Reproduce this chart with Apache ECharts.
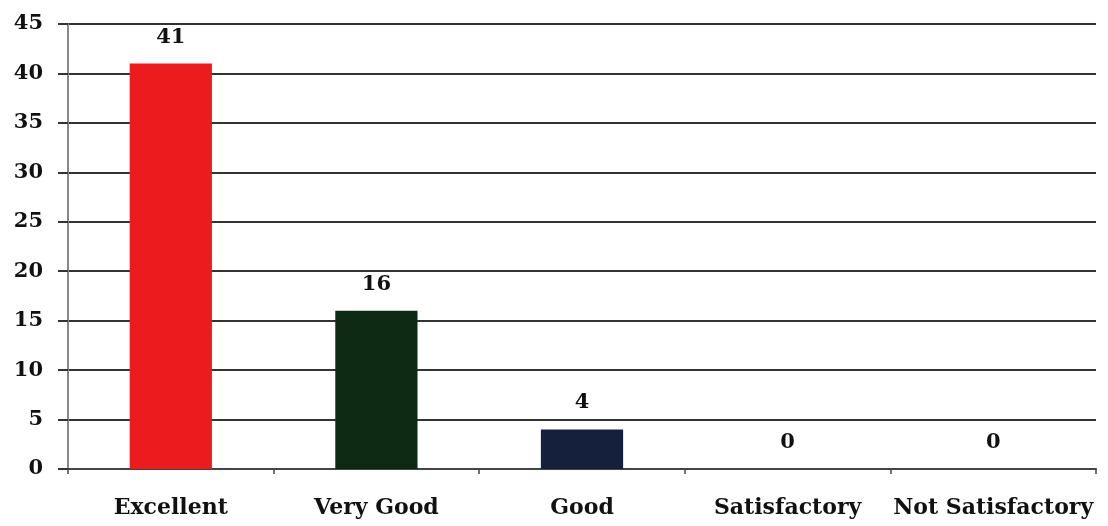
<!DOCTYPE html>
<html>
<head>
<meta charset="utf-8">
<script src="https://cdn.jsdelivr.net/npm/echarts@6/dist/echarts.min.js"></script>
<style>
  html, body { margin: 0; padding: 0; background: #fff; }
  #chart { width: 1108px; height: 526px; }
</style>
</head>
<body>
<div id="chart"></div>
<script>
// data
const categories = ['Excellent', 'Very Good', 'Good', 'Satisfactory', 'Not Satisfactory']
const counts = [41, 16, 4, 0, 0]
const barColors = ['#ec1b1e', '#0e2914', '#15203d', '#15203d', '#15203d']

const chart = echarts.init(document.getElementById('chart'))

chart.setOption({
  animation: false,
  textStyle: { fontFamily: 'DejaVu Serif' },
  grid: { left: 68, right: 12, top: 24, bottom: 57 },
  xAxis: {
    type: 'category',
    data: categories,
    axisLine: { lineStyle: { color: '#444', width: 2 } },
    axisTick: { show: true, length: 5, lineStyle: { color: '#444', width: 1.5 } },
    axisLabel: {
      color: '#111',
      fontWeight: 'bold',
      fontSize: 22,
      margin: 28,
      interval: 0
    },
    splitLine: { show: false }
  },
  yAxis: {
    type: 'value',
    min: 0,
    max: 45,
    interval: 5,
    axisLine: { show: true, lineStyle: { color: '#888', width: 2 } },
    axisTick: { show: true, length: 10, lineStyle: { color: '#333', width: 2 } },
    axisLabel: {
      color: '#111',
      fontWeight: 'bold',
      fontSize: 21,
      margin: 25
    },
    splitLine: { show: true, lineStyle: { color: '#333', width: 2 } }
  },
  series: [{
    type: 'bar',
    barWidth: '40%',
    data: counts.map((v, i) => ({ value: v, itemStyle: { color: barColors[i] } })),
    label: {
      show: true,
      position: 'top',
      distance: 16,
      color: '#111',
      fontWeight: 'bold',
      fontSize: 21
    }
  }]
})
</script>
</body>
</html>
